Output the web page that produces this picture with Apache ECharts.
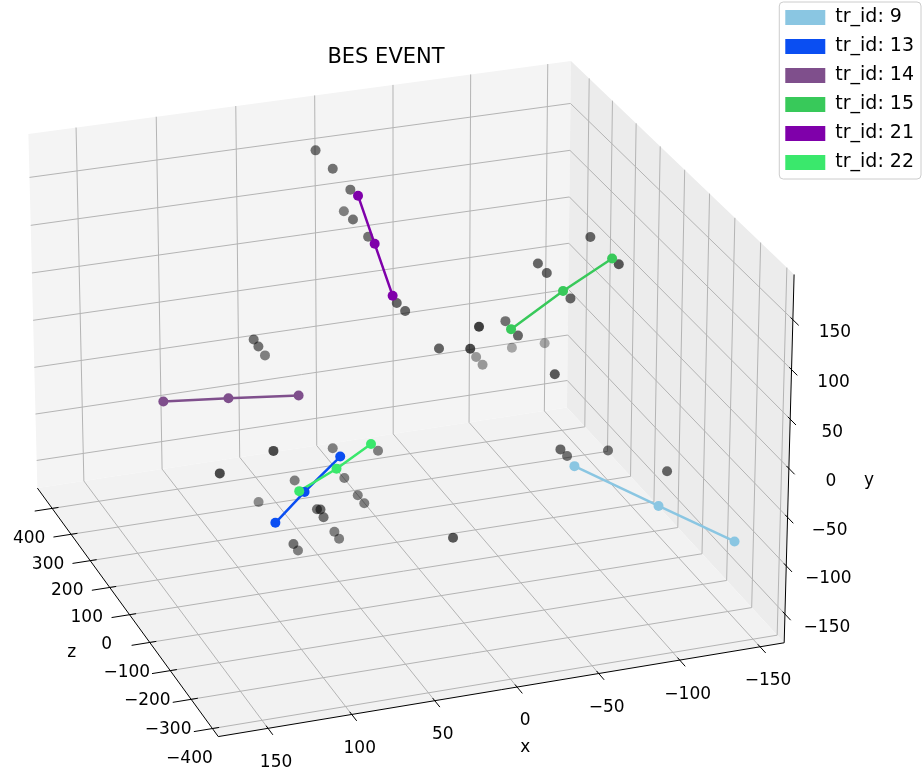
<!DOCTYPE html>
<html><head><meta charset="utf-8">
<script src="https://cdn.jsdelivr.net/npm/echarts@6.0.0/dist/echarts.min.js"></script>
<style>html,body{margin:0;padding:0;background:#fff}#main{width:922px;height:772px}</style>
</head><body><div id="main"></div>
<script>
// ---------------- data ----------------
const X_TICKS = [-150, -100, -50, 0, 50, 100, 150];
const Y_TICKS = [-150, -100, -50, 0, 50, 100, 150];
const Z_TICKS = [-400, -300, -200, -100, 0, 100, 200, 300, 400];
const GREY_X = [77,75,64,98,129,34,9,58,30,24,21,72,56,61,53,40,38,72,62,-15,27,19,11,8,12,5,2,-2,-110,-79,-83,-114,-94,-64,-62,-16,-17,-70,-73,-100,-119,-70,-76,-87,-110,-133,-1];
const GREY_Y = [29,23,-3,-14,-33,-84,-86,-112,-110,-125,-132,-150,-118,-102,-125,-157,-163,-148,-173,42,193,177,159,123,133,118,76,69,133,110,102,127,80,45,48,107,73,-38,-45,-48,-44,33,-50,-72,-67,-69,-107];
const GREY_Z = [192,185,239,-61,-47,147,121,147,123,105,97,215,57,3,49,96,89,48,103,19,273,253,231,284,212,194,86,77,24,36,25,-68,-2,71,3,-147,-103,240,232,288,273,-100,-87,-42,-61,-155,-144];
const TRACK_IDS = [9, 13, 14, 15, 21, 22];
const TRACK_X = [[-86,-125,-149],[49,78,102],[139,114,71],[-121,-98,-61],[0,2,4],[28,54,81]];
const TRACK_Y = [[-72,-98,-99],[-49,-64,-77],[-8,21,13],[113,72,49],[139,112,83],[-45,-55,-63]];
const TRACK_Z = [[-80,-174,-326],[0,-52,-98],[146,26,26],[5,56,26],[277,186,90],[14,-20,-50]];

// ---------------- view / style ----------------
const VIEW = {elev:24.4329, azim:160.1068, dist:12.7588, S:6576.054, cx:401.662, cy:385.243, ay:0.8976, az:1.0067};
const LIM = {x:[-165.11,179.53], y:[-179.90,195.04], z:[-427.23,479.65]};
const TRACK_COLORS = ['#8ac6e2','#0a4ef2','#7f4f8c','#38c95a','#7f00aa','#3ae86c'];
const FONT = '"DejaVu Sans", sans-serif';

function buildProj(){
  const k=1.8294640721620434/Math.sqrt(41);const A=[4*k,3*k*VIEW.ay,4*k*VIEW.az];
  const [xb0,xb1]=LIM.x,[yb0,yb1]=LIM.y,[zb0,zb1]=LIM.z;
  const e=VIEW.elev*Math.PI/180,a=VIEW.azim*Math.PI/180;
  const w=[Math.cos(e)*Math.sin(a),Math.sin(e),Math.cos(e)*Math.cos(a)];
  const R=[A[0]/2,A[1]/2,A[2]/2];const eye=[R[0]+VIEW.dist*w[0],R[1]+VIEW.dist*w[1],R[2]+VIEW.dist*w[2]];
  let u=[w[2],0,-w[0]];const un=Math.hypot(u[0],u[2]);u=[u[0]/un,0,u[2]/un];
  const v=[w[1]*u[2]-w[2]*u[1],w[2]*u[0]-w[0]*u[2],w[0]*u[1]-w[1]*u[0]];
  const toW=(x,y,z)=>[(x-xb0)/(xb1-xb0)*A[0],(y-yb0)/(yb1-yb0)*A[1],(z-zb0)/(zb1-zb0)*A[2]];
  return function project(x,y,z){const p=toW(x,y,z);const d=[p[0]-eye[0],p[1]-eye[1],p[2]-eye[2]];
    const dz=-(d[0]*w[0]+d[1]*w[1]+d[2]*w[2]);const sx=(d[0]*u[0]+d[1]*u[1]+d[2]*u[2])/dz;const sy=(d[0]*v[0]+d[1]*v[1]+d[2]*v[2])/dz;
    return [VIEW.cx+VIEW.S*sx,VIEW.cy-VIEW.S*sy,dz];};
}
const project=buildProj();

// ---------------- frame primitives (panes, grid, axes, labels) ----------------
const [xb0,xb1]=LIM.x,[yb0,yb1]=LIM.y,[zb0,zb1]=LIM.z;
const P3=(x,y,z)=>{const q=project(x,y,z);return [q[0],q[1]];};
const prims=[];
prims.push({t:'poly',pts:[P3(xb0,yb0,zb1),P3(xb1,yb0,zb1),P3(xb1,yb1,zb1),P3(xb0,yb1,zb1)],fill:'#f4f4f4'});
prims.push({t:'poly',pts:[P3(xb0,yb0,zb0),P3(xb0,yb0,zb1),P3(xb0,yb1,zb1),P3(xb0,yb1,zb0)],fill:'#ececec'});
prims.push({t:'poly',pts:[P3(xb0,yb0,zb0),P3(xb1,yb0,zb0),P3(xb1,yb0,zb1),P3(xb0,yb0,zb1)],fill:'#f2f2f2'});
const GC='#b4b4b4';
for(const x of X_TICKS){prims.push({t:'line',a:P3(x,yb0,zb0),b:P3(x,yb0,zb1),c:GC,w:1});prims.push({t:'line',a:P3(x,yb0,zb1),b:P3(x,yb1,zb1),c:GC,w:1});}
for(const y of Y_TICKS){prims.push({t:'line',a:P3(xb0,y,zb1),b:P3(xb1,y,zb1),c:GC,w:1});prims.push({t:'line',a:P3(xb0,y,zb0),b:P3(xb0,y,zb1),c:GC,w:1});}
for(const z of Z_TICKS){prims.push({t:'line',a:P3(xb0,yb0,z),b:P3(xb1,yb0,z),c:GC,w:1});prims.push({t:'line',a:P3(xb0,yb0,z),b:P3(xb0,yb1,z),c:GC,w:1});}
prims.push({t:'line',a:P3(xb0,yb0,zb0),b:P3(xb1,yb0,zb0),c:'#000',w:1});
prims.push({t:'line',a:P3(xb1,yb0,zb0),b:P3(xb1,yb0,zb1),c:'#000',w:1});
prims.push({t:'line',a:P3(xb0,yb0,zb0),b:P3(xb0,yb1,zb0),c:'#000',w:1});
const fmt=v=>(v<0?'\u2212':'')+Math.abs(v);
const TF='17px '+FONT;
for(const x of X_TICKS){const p=P3(x,yb0,zb0);prims.push({t:'line',a:P3(x,yb0,zb0+9),b:P3(x,yb0,zb0-22),c:'#000',w:1});prims.push({t:'text',p:[p[0]+8,p[1]+34],s:fmt(x),f:TF});}
for(const z of Z_TICKS){const p=P3(xb1,yb0,z);prims.push({t:'line',a:P3(xb1-4,yb0,z),b:P3(xb1+11,yb0,z),c:'#000',w:1});prims.push({t:'text',p:[p[0]-23,p[1]+30],s:fmt(z),f:TF});}
for(const y of Y_TICKS){const p=P3(xb0,y,zb0);prims.push({t:'line',a:P3(xb0,y,zb0+9),b:P3(xb0,y,zb0-22),c:'#000',w:1});prims.push({t:'text',p:[p[0]+42,p[1]+13],s:fmt(y),f:TF});}
{const a=P3(xb0,yb0,zb0),c=P3(xb1,yb0,zb0);prims.push({t:'text',p:[(a[0]+c[0])/2+24,(a[1]+c[1])/2+58],s:'x',f:TF});}
{const a=P3(xb0,yb0,zb0),c=P3(xb0,yb1,zb0);prims.push({t:'text',p:[(a[0]+c[0])/2+80,(a[1]+c[1])/2+22],s:'y',f:TF});}
{const a=P3(xb1,yb0,zb0),c=P3(xb1,yb0,zb1);prims.push({t:'text',p:[(a[0]+c[0])/2-56,(a[1]+c[1])/2+40],s:'z',f:TF});}
prims.push({t:'text',p:[386,58],s:'BES EVENT',f:'21px '+FONT});

// ---------------- grey hits with depth shading ----------------
const gproj=GREY_X.map((x,i)=>project(x,GREY_Y[i],GREY_Z[i]));
const dmin=Math.min(...gproj.map(q=>q[2])),dmax=Math.max(...gproj.map(q=>q[2]));
const greyData=gproj.map(q=>{const a=0.93*(1-0.57*(q[2]-dmin)/(dmax-dmin));return {value:[q[0],q[1]],itemStyle:{color:'rgba(0,0,0,'+a.toFixed(3)+')'}};});

const chart=echarts.init(document.getElementById('main'));
chart.setOption({animation:false,
 grid:{left:0,right:0,top:0,bottom:0},
 xAxis:{type:'value',min:0,max:922,show:false},yAxis:{type:'value',min:0,max:772,inverse:true,show:false},
 legend:{orient:'vertical',right:1,top:2,itemWidth:40,itemHeight:15,itemGap:10,padding:[6,7,7,6],
   borderColor:'#cccccc',borderWidth:1,borderRadius:4,backgroundColor:'rgba(255,255,255,0.85)',
   textStyle:{fontSize:19,fontFamily:FONT,color:'#000',padding:[0,0,0,5]},
   data:TRACK_IDS.map(id=>({name:'tr_id: '+id,icon:'rect'}))},
 series:[{type:'custom',silent:true,clip:false,z:1,data:prims.map(()=>[0,0]),renderItem:(params,api)=>{const pr=prims[params.dataIndex];
   if(pr.t==='poly')return {type:'polygon',shape:{points:pr.pts.map(q=>api.coord(q))},style:{fill:pr.fill}};
   if(pr.t==='text'){const a=api.coord(pr.p);return {type:'text',x:a[0],y:a[1],style:{text:pr.s,fill:'#000',font:pr.f,align:'center',verticalAlign:'middle',textAlign:'center',textVerticalAlign:'middle'}};}
   const a=api.coord(pr.a),c=api.coord(pr.b);return {type:'line',shape:{x1:a[0],y1:a[1],x2:c[0],y2:c[1]},style:{stroke:pr.c,lineWidth:pr.w}};}},
  {type:'scatter',z:2,silent:true,data:greyData,symbolSize:10},
  ...TRACK_IDS.map((id,t)=>({type:'line',name:'tr_id: '+id,z:3,silent:true,
    data:TRACK_X[t].map((x,j)=>{const q=project(x,TRACK_Y[t][j],TRACK_Z[t][j]);return [q[0],q[1]];}),
    symbol:'circle',symbolSize:10,itemStyle:{color:TRACK_COLORS[t]},lineStyle:{width:2.5,color:TRACK_COLORS[t]}}))]});
</script></body></html>
